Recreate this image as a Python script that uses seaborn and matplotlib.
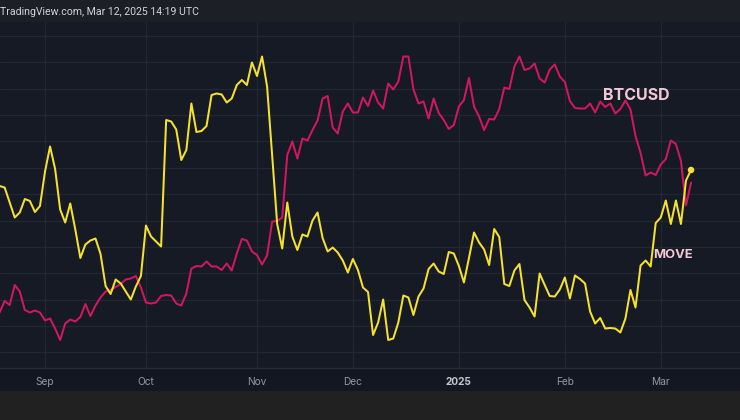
import numpy as np
import pandas as pd
import matplotlib
matplotlib.use("Agg")
import matplotlib.pyplot as plt
from matplotlib.patches import Rectangle
import seaborn as sns

# ---- data (bond-market trading days) ----
holidays = ["2024-09-02", "2024-10-14", "2024-11-11", "2024-11-28",
            "2024-12-25", "2025-01-01", "2025-01-20", "2025-02-17"]
dates = pd.bdate_range("2024-08-20", "2025-03-11", freq="C", holidays=holidays)

btcusd_k = [
    55.1, 57.4, 56.6, 60.6, 59.3, 55.6, 55.1, 55.5, 55.1, 53.5,
    53.9, 51.9, 49.6, 52.9, 53.7, 53.3, 54.2, 56.8, 54.4, 56.5,
    58.1, 59.3, 59.6, 60.2, 60.8, 61.7, 61.9, 62.4, 60.1, 57.1,
    56.9, 57.1, 58.4, 58.6, 58.5, 56.9, 56.5, 58.9, 63.9, 64.4,
    64.3, 65.3, 64.3, 64.3, 63.6, 64.9, 63.5, 66.9, 69.8, 69.5,
    67.3, 66.6, 64.7, 66.5, 73.3, 73.4, 74.1, 86.6, 89.3, 85.9,
    89.9, 89.5, 91.6, 93.5, 97.9, 98.4, 92.1, 90.9, 95.3, 96.9,
    95.1, 95.1, 98.1, 96.4, 99.5, 97.1, 95.9, 100.9, 99.7, 101.3,
    106.3, 106.3, 99.7, 96.9, 97.3, 93.9, 97.9, 95.0, 93.6, 91.8,
    92.6, 96.3, 97.6, 102.0, 96.3, 94.3, 91.6, 93.8, 93.7, 95.8,
    100.1, 99.8, 104.3, 106.3, 103.6, 103.9, 104.9, 101.9, 101.1, 103.7,
    104.7, 102.3, 101.2, 97.4, 96.0, 95.9, 95.9, 96.9, 95.1, 97.3,
    96.2, 96.9, 94.9, 95.8, 97.5, 95.7, 90.4, 87.0, 82.5, 83.1,
    82.6, 84.7, 85.8, 89.5, 88.8, 85.4, 76.5, 81.1,
]

move_index = [
    114.4, 114.1, 111.1, 108.1, 109.1, 111.8, 111.4, 109.2, 110.4, 117.3,
    122.3, 117.8, 109.7, 107.1, 110.9, 105.7, 100.0, 102.7, 103.5, 103.9,
    100.8, 94.4, 92.8, 95.7, 94.9, 93.3, 91.7, 94.3, 96.4, 106.5,
    104.3, 103.3, 102.3, 127.6, 127.3, 125.7, 119.6, 121.6, 130.9, 125.2,
    125.4, 126.4, 132.6, 132.9, 132.7, 131.1, 131.9, 134.6, 135.6, 134.6,
    139.1, 136.4, 140.3, 134.3, 120.6, 106.8, 101.9, 111.1, 104.3, 101.6,
    104.7, 104.3, 107.5, 109.1, 104.0, 101.3, 102.1, 101.1, 99.5, 97.1,
    99.8, 97.6, 94.1, 93.2, 84.6, 87.1, 91.7, 83.6, 83.9, 87.1,
    92.5, 92.1, 88.6, 92.3, 93.9, 97.8, 98.9, 97.3, 96.8, 101.2,
    100.9, 98.4, 95.1, 100.0, 105.1, 103.1, 101.7, 98.6, 105.8, 104.2,
    94.8, 94.4, 97.5, 98.8, 91.6, 90.1, 88.3, 96.9, 94.6, 92.4,
    92.3, 93.7, 96.1, 91.9, 96.5, 95.8, 94.9, 89.3, 86.9, 88.0,
    85.9, 86.0, 85.9, 85.1, 87.9, 93.6, 90.1, 98.5, 99.5, 98.3,
    107.0, 108.1, 111.5, 106.8, 111.5, 106.8, 115.5, 117.6,
]

month_labels = ["Sep", "Oct", "Nov", "Dec", "2025", "Feb", "Mar"]

df = pd.DataFrame({
    "date": dates,
    "bar": np.arange(len(dates)),
    "BTCUSD": btcusd_k,
    "MOVE": move_index,
})

# ---- styling ----
sns.set_theme(style="dark")
plt.rcParams["font.family"] = ["Inter", "DejaVu Sans"]

PLOT_BG = "#161a25"
HEADER_BG = "#1c1f26"
BAND_BG = "#131722"
BOTTOM_BG = "#212121"
GRID = "#232733"
PINK = "#d1175f"
YELLOW = "#f5e12f"
LABEL_TXT = "#f4c9d6"

W, H = 740, 420
fig = plt.figure(figsize=(W / 100, H / 100), dpi=100, facecolor=BOTTOM_BG)

# background bands (behind everything)
fig.patches.append(Rectangle((0, (H - 22) / H), 1, 22 / H, transform=fig.transFigure,
                             facecolor=HEADER_BG, edgecolor="none", zorder=-5))
fig.patches.append(Rectangle((0, (H - 391) / H), 1, 23 / H, transform=fig.transFigure,
                             facecolor=BAND_BG, edgecolor="none", zorder=-5))

ax = fig.add_axes([0, (H - 368) / H, 1, 346 / H])
ax.set_facecolor(PLOT_BG)
ax2 = ax.twinx()

sns.lineplot(data=df, x="bar", y="BTCUSD", ax=ax, color=PINK, lw=1.45, legend=False)
sns.lineplot(data=df, x="bar", y="MOVE", ax=ax2, color=YELLOW, lw=1.45, legend=False)
sns.scatterplot(data=df.tail(1), x="bar", y="MOVE", ax=ax2, color=YELLOW, s=22,
                edgecolor="none", legend=False, zorder=5)

ax.set_xlim(0.08, 146.7)
ax.set_ylim(44.0, 113.2)
ax2.set_ylim(78.0, 147.2)

# month ticks at first trading day of each month
month_start = df.groupby(df["date"].dt.to_period("M"))["bar"].min().values[1:]
ax.set_xticks(month_start)
ax.set_xticklabels(month_labels)
ax.set_yticks(np.linspace(47.14, 110.4, 13))
ax.set_yticklabels([])
ax2.set_yticks([])
ax.grid(True, color=GRID, lw=0.9)
ax.set_axisbelow(True)
ax.set_xlabel("")
ax.set_ylabel("")
ax2.set_ylabel("")
ax.tick_params(axis="x", length=0, pad=6.5, labelsize=7.3, colors="#9598a1")
ax.tick_params(axis="y", length=0)
for t in ax.get_xticklabels():
    t.set_color("#9598a1")
    if t.get_text() == "2025":
        t.set_fontweight("bold")
        t.set_color("#c3c6ce")
for a in (ax, ax2):
    for s in a.spines.values():
        s.set_visible(False)

# bottom border of plot area
fig.add_artist(plt.Line2D([0, 1], [(H - 368) / H] * 2, transform=fig.transFigure,
                          color="#2a2e39", lw=1))

# series labels
ax.text(119.6, 98.4, "BTCUSD", color=LABEL_TXT, fontsize=11.5, fontweight="bold",
        ha="left", va="center")
ax2.text(129.4, 100.6, "MOVE", color=LABEL_TXT, fontsize=9.3, fontweight="bold",
         ha="left", va="center")

fig.text(0.0, 1 - 12 / H, "TradingView.com, Mar 12, 2025 14:19 UTC", color="#d1d4dc",
         fontsize=7.6, ha="left", va="center", family=["Roboto", "DejaVu Sans"])

fig.savefig("out.png", dpi=100, facecolor=fig.get_facecolor())
